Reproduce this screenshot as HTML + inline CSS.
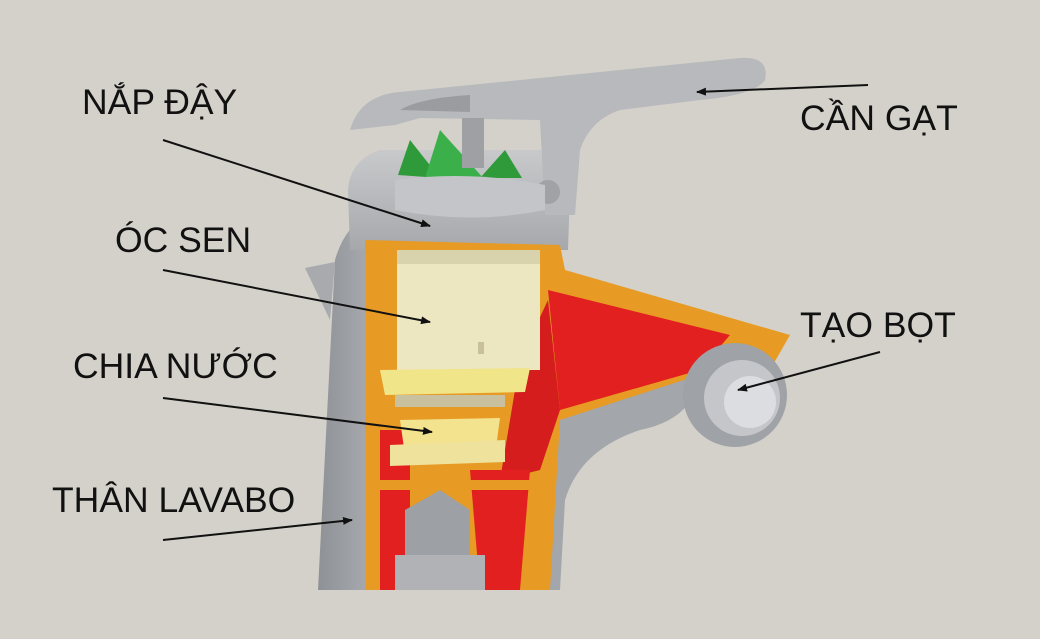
<!DOCTYPE html>
<html><head><meta charset="utf-8"><style>
html,body{margin:0;padding:0;background:#d4d1ca;}
svg{display:block}
text{font-family:"Liberation Sans",sans-serif;font-size:35.5px;fill:#111;}
</style></head><body>
<svg width="1040" height="639" viewBox="0 0 1040 639" xmlns="http://www.w3.org/2000/svg">
<defs>
<linearGradient id="g1" x1="0" x2="1"><stop offset="0" stop-color="#8e9196"/><stop offset=".5" stop-color="#c9cbce"/><stop offset="1" stop-color="#9a9da2"/></linearGradient>
<linearGradient id="g2" x1="0" x2="0" y1="0" y2="1"><stop offset="0" stop-color="#c8c9cb"/><stop offset="1" stop-color="#a6a8ac"/></linearGradient>
<marker id="ah" markerWidth="10" markerHeight="8" refX="9" refY="4" orient="auto" markerUnits="userSpaceOnUse"><path d="M0,0 L10,4 L0,8 z" fill="#111"/></marker>
</defs>
<rect width="1040" height="639" fill="#d4d1ca"/>
<path d="M318,590 L335,260 Q345,225 370,215 L560,215 L560,590 Z" fill="url(#g1)"/>
<path d="M305,268 L335,262 L330,320 Z" fill="#a8aaae"/>
<path d="M540,330 L700,380 Q690,420 640,430 Q580,450 565,500 L560,590 L540,590 Z" fill="#a3a6aa"/>
<path d="M348,190 Q350,160 380,150 L540,150 Q568,158 570,190 L568,250 L350,250 Z" fill="url(#g2)"/>
<path d="M350,130 Q360,95 400,92 L740,58 Q770,56 765,80 Q755,95 700,100 L620,110 Q590,120 580,150 L575,215 L545,215 L540,120 L420,118 L395,125 Z" fill="#b7b9bc"/>
<path d="M400,110 Q420,98 470,95 L470,112 Z" fill="#9a9ca0"/>
<path d="M398,175 L410,140 L440,178 Z" fill="#2f9a3a"/>
<path d="M425,178 L440,130 L485,180 Z" fill="#3bb04a"/>
<path d="M480,178 L505,150 L522,178 Z" fill="#2f9a3a"/>
<rect x="462" y="118" width="22" height="50" fill="#9ea0a4"/>
<circle cx="548" cy="192" r="12" fill="#a0a2a6"/>
<path d="M395,180 Q470,170 545,185 L545,210 Q470,225 395,210 Z" fill="#c3c5c8"/>
<path d="M365,240 L560,245 L565,270 L790,335 L770,370 L730,365 L560,420 L550,590 L365,590 Z" fill="#e79b24"/>
<path d="M548,290 L730,335 L700,370 L560,410 Z" fill="#e2201f"/>
<path d="M520,360 L548,300 L560,410 L540,470 L500,480 Z" fill="#d41d1c"/>
<path d="M380,430 L410,430 L410,590 L380,590 Z" fill="#e2201f"/>
<path d="M470,470 L530,470 L520,590 L480,590 Z" fill="#e2201f"/>
<path d="M380,480 L540,480 L540,490 L380,490 Z" fill="#e79b24"/>
<path d="M405,510 L440,490 L470,510 L470,590 L405,590 Z" fill="#9da0a4"/>
<rect x="395" y="555" width="90" height="35" fill="#b0b2b5"/>
<path d="M397,262 L540,262 L540,370 L397,370 Z" fill="#ede7c1"/>
<rect x="397" y="250" width="143" height="14" fill="#d9d3ad"/>
<rect x="478" y="342" width="6" height="12" fill="#c9c09a"/>
<path d="M380,370 L530,368 L525,392 L385,395 Z" fill="#f1e58a"/>
<rect x="395" y="395" width="110" height="12" fill="#c9c0a0"/>
<path d="M400,420 L500,418 L495,455 L470,462 L430,462 L405,455 Z" fill="#f3e28e"/>
<path d="M390,445 L505,440 L505,462 L390,466 Z" fill="#efe29c"/>
<circle cx="735" cy="395" r="52" fill="#9fa2a6"/>
<circle cx="742" cy="398" r="38" fill="#c4c6c9"/>
<circle cx="750" cy="402" r="26" fill="#dcdde0"/>
<text x="82" y="114">NẮP ĐẬY</text>
<text x="800" y="130">CẦN GẠT</text>
<text x="115" y="252">ÓC SEN</text>
<text x="800" y="337">TẠO BỌT</text>
<text x="73" y="378">CHIA NƯỚC</text>
<text x="52" y="512">THÂN LAVABO</text>
<g stroke="#111" stroke-width="2" fill="none" marker-end="url(#ah)">
<line x1="163" y1="140" x2="430" y2="226"/>
<line x1="868" y1="85" x2="697" y2="92"/>
<line x1="163" y1="270" x2="430" y2="322"/>
<line x1="163" y1="398" x2="432" y2="432"/>
<line x1="163" y1="540" x2="352" y2="520"/>
<line x1="880" y1="352" x2="738" y2="390"/>
</g>
</svg>
</body></html>
